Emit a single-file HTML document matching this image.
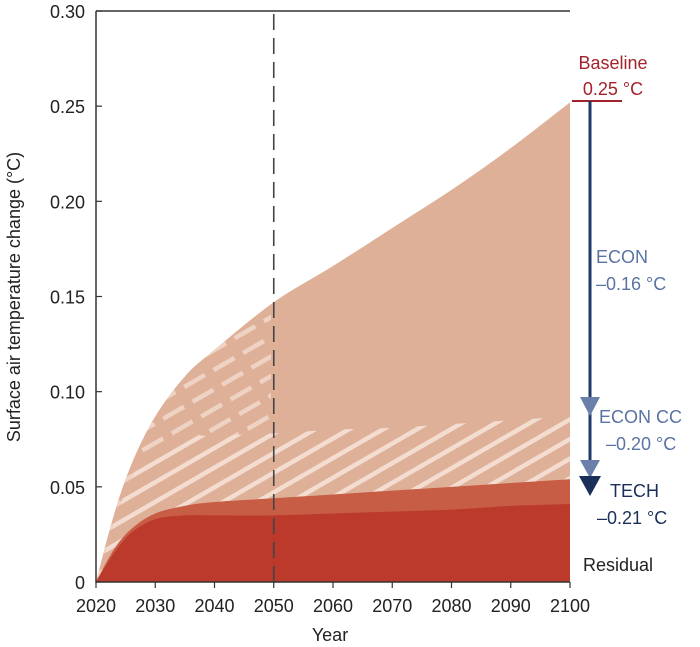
<!DOCTYPE html>
<html><head><meta charset="utf-8"><style>
body{margin:0;background:#fff;position:relative;}
svg{display:block;font-family:"Liberation Sans",Arial,sans-serif;}
</style></head><body>
<svg id="chart" width="700" height="647" viewBox="0 0 700 647">
<defs>
<pattern id="hatch" patternUnits="userSpaceOnUse" width="17" height="17" patternTransform="rotate(-30)">
<rect x="0" y="0" width="17" height="4.5" fill="#f6e3d8" opacity="0.9"/>
</pattern>
<pattern id="hatch2" patternUnits="userSpaceOnUse" width="34" height="17" patternTransform="rotate(-30)">
<rect x="0" y="0" width="24" height="4.5" fill="#f6e3d8" opacity="0.7"/>
</pattern>
<clipPath id="leftClip"><rect x="96" y="0" width="175" height="600"/></clipPath>
</defs>
<g id="marks"></g>
<g id="axes"></g>
</svg>
<script>
const years=[2020,2023,2026,2030,2035,2040,2050,2060,2070,2080,2090,2100];
const baseline=[0,0.035,0.062,0.087,0.108,0.122,0.147,0.166,0.186,0.206,0.228,0.252];
const econCC=[0,0.030,0.055,0.070,0.076,0.077,0.078,0.080,0.081,0.083,0.085,0.087];
const tech=[0,0.017,0.028,0.036,0.040,0.042,0.044,0.046,0.048,0.050,0.052,0.054];
const residual=[0,0.015,0.026,0.033,0.035,0.035,0.035,0.036,0.037,0.038,0.040,0.041];
const xTicks=[2020,2030,2040,2050,2060,2070,2080,2090,2100];
const yTicks=[0,0.05,0.10,0.15,0.20,0.25,0.30];
const yLabels=["0","0.05","0.10","0.15","0.20","0.25","0.30"];
const NS="http://www.w3.org/2000/svg";
const X=v=>96+(v-2020)*(570-96)/80;
const Y=v=>582-v*(582-11)/0.30;
function mk(tag,attrs,parent){const e=document.createElementNS(NS,tag);for(const k in attrs)e.setAttribute(k,attrs[k]);parent.appendChild(e);return e;}
function smooth(pts){let d="";for(let i=0;i<pts.length-1;i++){const p0=pts[Math.max(i-1,0)],p1=pts[i],p2=pts[i+1],p3=pts[Math.min(i+2,pts.length-1)];
const c1=[p1[0]+(p2[0]-p0[0])/6,p1[1]+(p2[1]-p0[1])/6],c2=[p2[0]-(p3[0]-p1[0])/6,p2[1]-(p3[1]-p1[1])/6];
d+="C"+c1.join(",")+" "+c2.join(",")+" "+p2.join(",");}return d;}
function band(top,bot){const t=years.map((y,i)=>[X(y),Y(top[i])]);const b=years.map((y,i)=>[X(y),Y(bot[i])]).reverse();
return "M"+t[0].join(",")+smooth(t)+"L"+b[0].join(",")+smooth(b)+"Z";}
const marks=document.getElementById('marks'),axes=document.getElementById('axes');
const zero=years.map(()=>0);
let e;
e=mk('path',{d:band(baseline,zero),fill:'#dfb098'},marks);


e=mk('path',{d:band(baseline,econCC),fill:'url(#hatch2)','clip-path':'url(#leftClip)'},marks);


e=mk('path',{d:band(econCC,tech),fill:'url(#hatch)'},marks);


e=mk('path',{d:band(tech,zero),fill:'#c75d45'},marks);


e=mk('path',{d:band(residual,zero),fill:'#bb3a2b'},marks);


e=mk('line',{x1:X(2050),y1:14,x2:X(2050),y2:582,stroke:'#444','stroke-width':1.6,'stroke-dasharray':'16 8'},marks);


e=mk('path',{d:'M96,11V582H570',fill:'none',stroke:'#333','stroke-width':1.5},axes);


e=mk('line',{x1:96,y1:11,x2:570,y2:11,stroke:'#333','stroke-width':1.5},axes);


xTicks.forEach(t=>{
 e=mk('line',{x1:X(t),y1:582,x2:X(t),y2:588,stroke:'#333','stroke-width':1.2},axes);
 
 
 e=mk('text',{x:X(t),y:612,'text-anchor':'middle','font-size':18,fill:'#222'},axes);e.textContent=t;
 
 
});
yTicks.forEach((t,i)=>{
 e=mk('line',{x1:96,y1:Y(t),x2:102,y2:Y(t),stroke:'#333','stroke-width':1.2},axes);
 
 
 e=mk('text',{x:85,y:Y(t)+7,'text-anchor':'end','font-size':18,fill:'#222'},axes);e.textContent=yLabels[i];
 
 
});
</script>
<svg width="700" height="647" style="position:absolute;left:0;top:0;font-family:'Liberation Sans',Arial,sans-serif">
<text x="330" y="641" text-anchor="middle" font-size="18" fill="#222">Year</text>
<text transform="translate(20,297) rotate(-90)" text-anchor="middle" font-size="18" fill="#222">Surface air temperature change (°C)</text>
<line x1="572" y1="101" x2="622" y2="101" stroke="#a3232a" stroke-width="2"/>
<text x="613" y="69" text-anchor="middle" font-size="18" fill="#a3232a">Baseline</text>
<text x="613" y="95" text-anchor="middle" font-size="18" fill="#a3232a">0.25 °C</text>
<line x1="590" y1="101" x2="590" y2="485" stroke="#1f3a66" stroke-width="3"/>
<polygon points="580,397 600,397 590,416" fill="#6a80a8"/>
<polygon points="580,460 600,460 590,478" fill="#6a80a8"/>
<polygon points="579,476 601,476 590,496" fill="#1a3058"/>
<text x="596" y="263" font-size="18" fill="#5a73a3">ECON</text>
<text x="596" y="290" font-size="18" fill="#5a73a3">–0.16 °C</text>
<text x="599" y="423" font-size="18" fill="#5a73a3">ECON CC</text>
<text x="606" y="450" font-size="18" fill="#5a73a3">–0.20 °C</text>
<text x="610" y="497" font-size="18" fill="#1a3058">TECH</text>
<text x="597" y="524" font-size="18" fill="#1a3058">–0.21 °C</text>
<text x="583" y="571" font-size="18" fill="#222">Residual</text>
</svg>
</body></html>
